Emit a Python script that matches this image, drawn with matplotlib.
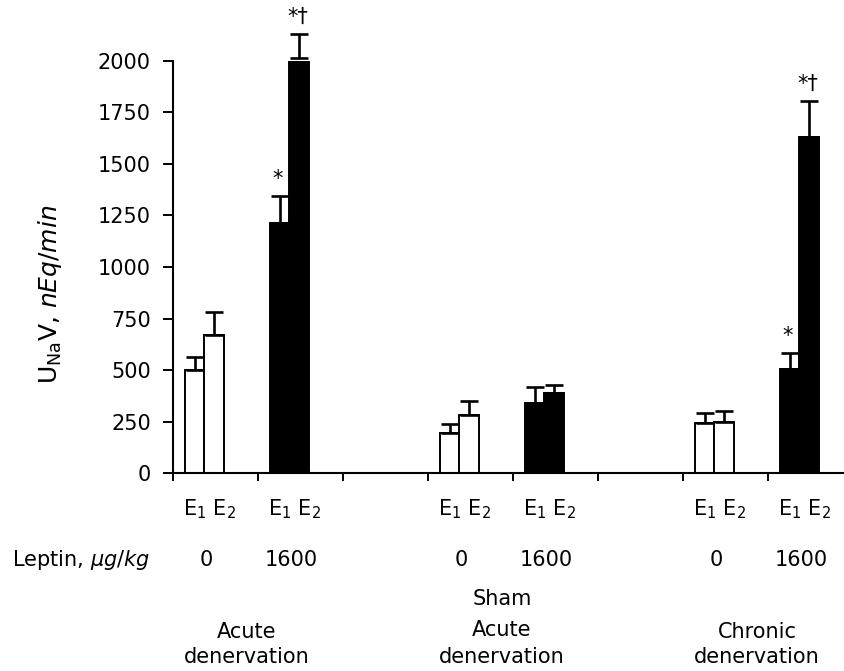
import matplotlib
matplotlib.use("Agg")
import matplotlib.pyplot as plt
import numpy as np

plt.rcParams['font.family'] = ['DejaVu Sans']
plt.rcParams['mathtext.fontset'] = 'dejavusans'

# ---- data ----
groups = ["Acute\ndenervation", "Sham\nAcute\ndenervation", "Chronic\ndenervation"]
leptin_doses = ["0", "1600"]
yticks = [0, 250, 500, 750, 1000, 1250, 1500, 1750, 2000]

# values per group, per dose: [E1, E2]
acute_0 = [500, 672]
acute_0_err = [65, 108]
acute_1600 = [1215, 2012]
acute_1600_err = [130, 116]
sham_0 = [194, 283]
sham_0_err = [43, 69]
sham_1600 = [339, 388]
sham_1600_err = [81, 40]
chronic_0 = [245, 250]
chronic_0_err = [46, 52]
chronic_1600 = [504, 1632]
chronic_1600_err = [78, 174]

# significance marks per bar
marks_acute = ["*", "*\u2020"]
marks_chronic = ["*", "*\u2020"]

sets = [
    (acute_0, acute_0_err, "white", None),
    (acute_1600, acute_1600_err, "black", marks_acute),
    (sham_0, sham_0_err, "white", None),
    (sham_1600, sham_1600_err, "black", None),
    (chronic_0, chronic_0_err, "white", None),
    (chronic_1600, chronic_1600_err, "black", marks_chronic),
]

fig = plt.figure(figsize=(8.45, 6.71), dpi=100)
ax = fig.add_axes([173/845, 1 - 473.3/671, 672/845, 412.6/671])

slot = [0, 1, 3, 4, 6, 7]
bw = 0.226
FS = 15

for k, (vals, errs, col, marks) in enumerate(sets):
    c = slot[k] + 0.37
    xs = [c - bw/2, c + bw/2]
    ax.bar(xs, vals, width=bw, color=col, edgecolor="black", linewidth=1.4, zorder=2)
    ax.errorbar(xs, vals, yerr=[[0, 0], errs], fmt="none", ecolor="black",
                elinewidth=1.9, capsize=6.2, capthick=1.9, zorder=3, clip_on=False)
    if marks is not None:
        for i, m in enumerate(marks):
            ax.text(xs[i] - (0.01 if len(m) > 1 else 0.03), vals[i] + errs[i] + 35, m,
                    ha="center", va="bottom", fontsize=FS, clip_on=False)
    ax.text(c + 0.06, -0.101, "E$_1$ E$_2$", transform=ax.get_xaxis_transform(),
            ha="center", va="baseline", fontsize=FS)
    ax.text(c + 0.02, -0.2247, leptin_doses[k % 2], transform=ax.get_xaxis_transform(),
            ha="center", va="baseline", fontsize=FS)

ax.text(-1.08, -0.2247, r"Leptin, $\mathit{\mu g/kg}$", transform=ax.get_xaxis_transform(),
        ha="center", va="baseline", fontsize=FS)

# group labels
ybase = {2: [-0.399, -0.4605], 3: [-0.319, -0.394, -0.4605]}
for g, name in enumerate(groups):
    lines = name.split("\n")
    xc = slot[2*g] + 0.87
    for ln, yy in zip(lines, ybase[len(lines)]):
        ax.text(xc, yy, ln, transform=ax.get_xaxis_transform(),
                ha="center", va="baseline", fontsize=FS)

ax.set_ylim(0, 2000)
ax.set_xlim(0, 672/85)
ax.set_yticks(yticks)
ax.set_yticklabels([str(v) for v in yticks], fontsize=FS)
ax.set_xticks(np.arange(0, 8))
ax.set_xticklabels([])
ax.tick_params(axis="y", direction="out", length=7, width=1.4, pad=9)
ax.tick_params(axis="x", direction="out", length=6, width=1.4)
for s in ["top", "right"]:
    ax.spines[s].set_visible(False)
for s in ["left", "bottom"]:
    ax.spines[s].set_linewidth(1.5)

ax.set_ylabel(r"U$_{\mathrm{Na}}$V, $\mathit{nEq/min}$", fontsize=18)
ax.yaxis.set_label_coords(-0.162, 0.435)

fig.savefig("out.png", dpi=100)
